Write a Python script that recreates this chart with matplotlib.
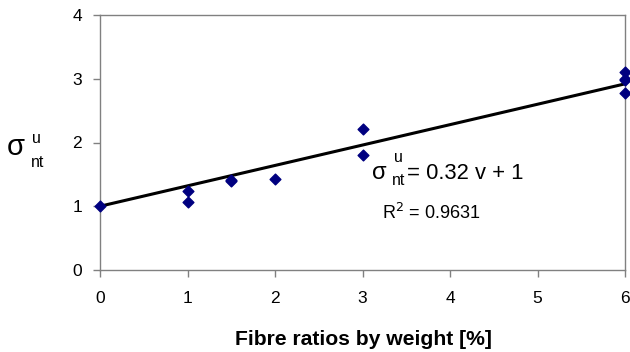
import matplotlib
matplotlib.use("Agg")
import matplotlib.pyplot as plt
import numpy as np

plt.rcParams['font.family'] = ['Liberation Sans', 'DejaVu Sans']

fibre = [0, 1, 1, 1.5, 1.5, 2, 3, 3, 6, 6, 6, 6]
sigma = [1.0, 1.24, 1.06, 1.39, 1.41, 1.42, 2.21, 1.81, 3.11, 2.98, 3.0, 2.78]
slope, intercept = 0.32, 1.0
xticks = [0, 1, 2, 3, 4, 5, 6]
yticks = [0, 1, 2, 3, 4]

fig = plt.figure(figsize=(6.3, 3.52), dpi=100)
ax = fig.add_axes([100/630, 1-270/352, 525/630, 255/352])
xs = np.array([0, 6])
ax.plot(xs, slope*xs + intercept, color='black', lw=2.2, zorder=2)
ax.scatter(fibre, sigma, marker='D', s=30, color='#000080', zorder=3, clip_on=False)
ax.set_xlim(0, 6)
ax.set_ylim(0, 4)
ax.set_xticks(xticks)
ax.set_yticks(yticks)
for s in ax.spines.values():
    s.set_color('#808080')
    s.set_linewidth(1.0)
ax.tick_params(colors='#808080', labelcolor='black', labelsize=12.5, length=5, width=1, pad=8)
ax.tick_params(axis='x', pad=10)

def T(x, y, s, **kw):
    kw.setdefault('va', 'baseline')
    kw.setdefault('ha', 'left')
    fig.text(x/630, 1-y/352, s, **kw)

# y-axis label
T(7, 155, 'σ', fontsize=21)
T(32, 143, 'u', fontsize=11.5)
T(31, 167, 'nt', fontsize=11.5)

# regression equation
T(372, 179, 'σ', fontsize=17)
T(394, 162, 'u', fontsize=11.5)
T(392, 185, 'nt', fontsize=11.5)
T(407, 179, '= 0.32 v + 1', fontsize=15.8)
T(382, 219, r'R$^2$ = 0.9631', fontsize=13)

T(364, 345, 'Fibre ratios by weight [%]', fontsize=15.2, fontweight='bold', ha='center')

fig.savefig('out.png', dpi=100)
